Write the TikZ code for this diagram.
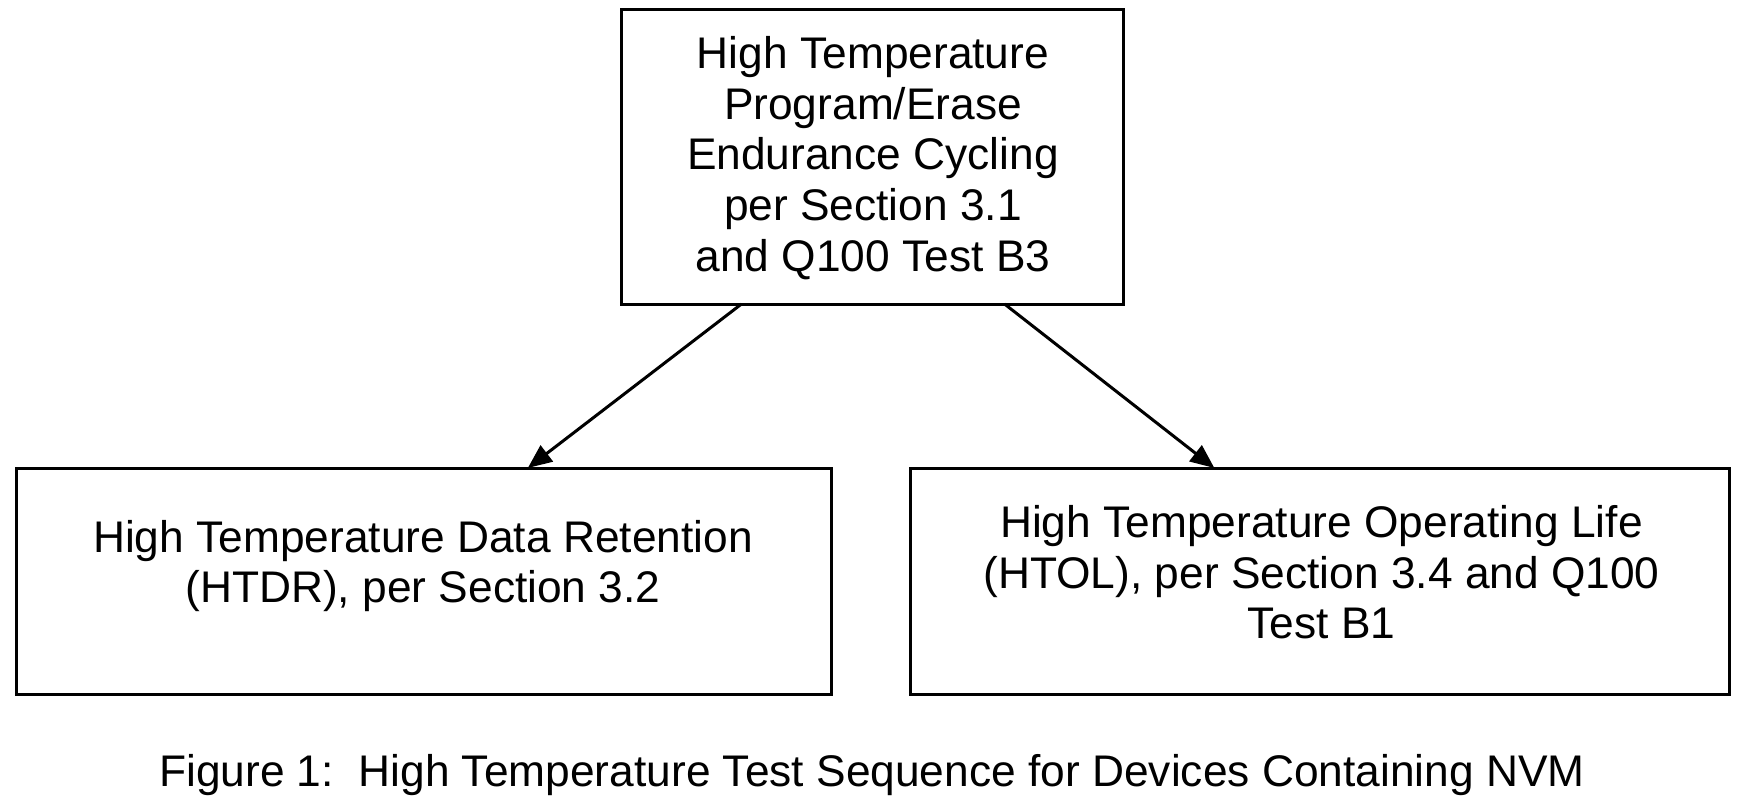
\documentclass[tikz,border=0pt]{standalone}
\usepackage{fontspec}
\setmainfont{Liberation Sans}
\usetikzlibrary{arrows.meta,calc}
\tikzset{
  boxnode/.style={draw=black, line width=3pt, rectangle, inner sep=0pt, outer sep=0pt},
  txt/.style={align=center, inner sep=0pt, outer sep=0pt, font=\fontsize{44.3}{50.6}\selectfont},
  conn/.style={line width=3pt, -{Triangle[length=24pt,width=20pt]}}
}
\begin{document}
\begin{tikzpicture}[x=1pt,y=-1pt]
\useasboundingbox (0,0) rectangle (1757,803);
\node[boxnode, minimum width=502pt, minimum height=295pt] (tb) at (872,156.5) {};
\node[boxnode, minimum width=815pt, minimum height=226pt] (lb) at (423.5,581) {};
\node[boxnode, minimum width=819pt, minimum height=226pt] (rb) at (1320,581) {};
\node[txt] (tbt) at (873,158) {High Temperature\\Program/Erase\\Endurance Cycling\\per Section 3.1\\and Q100 Test B3};
\node[txt] (lbt) at (423,566) {High Temperature Data Retention\\(HTDR), per Section 3.2};
\node[txt] (rbt) at (1321.5,572.5) {High Temperature Operating Life\\(HTOL), per Section 3.4 and Q100\\Test B1};
\node[txt, anchor=base] (cap) at (872,786) {Figure 1:\ \ High Temperature Test Sequence for Devices Containing NVM};
\draw[conn] ($(tb.south west)!0.24!(tb.south east)$) -- ($(lb.north west)!0.628!(lb.north east)$);
\draw[conn] ($(tb.south west)!0.764!(tb.south east)$) -- ($(rb.north west)!0.371!(rb.north east)$);
\end{tikzpicture}
\end{document}
